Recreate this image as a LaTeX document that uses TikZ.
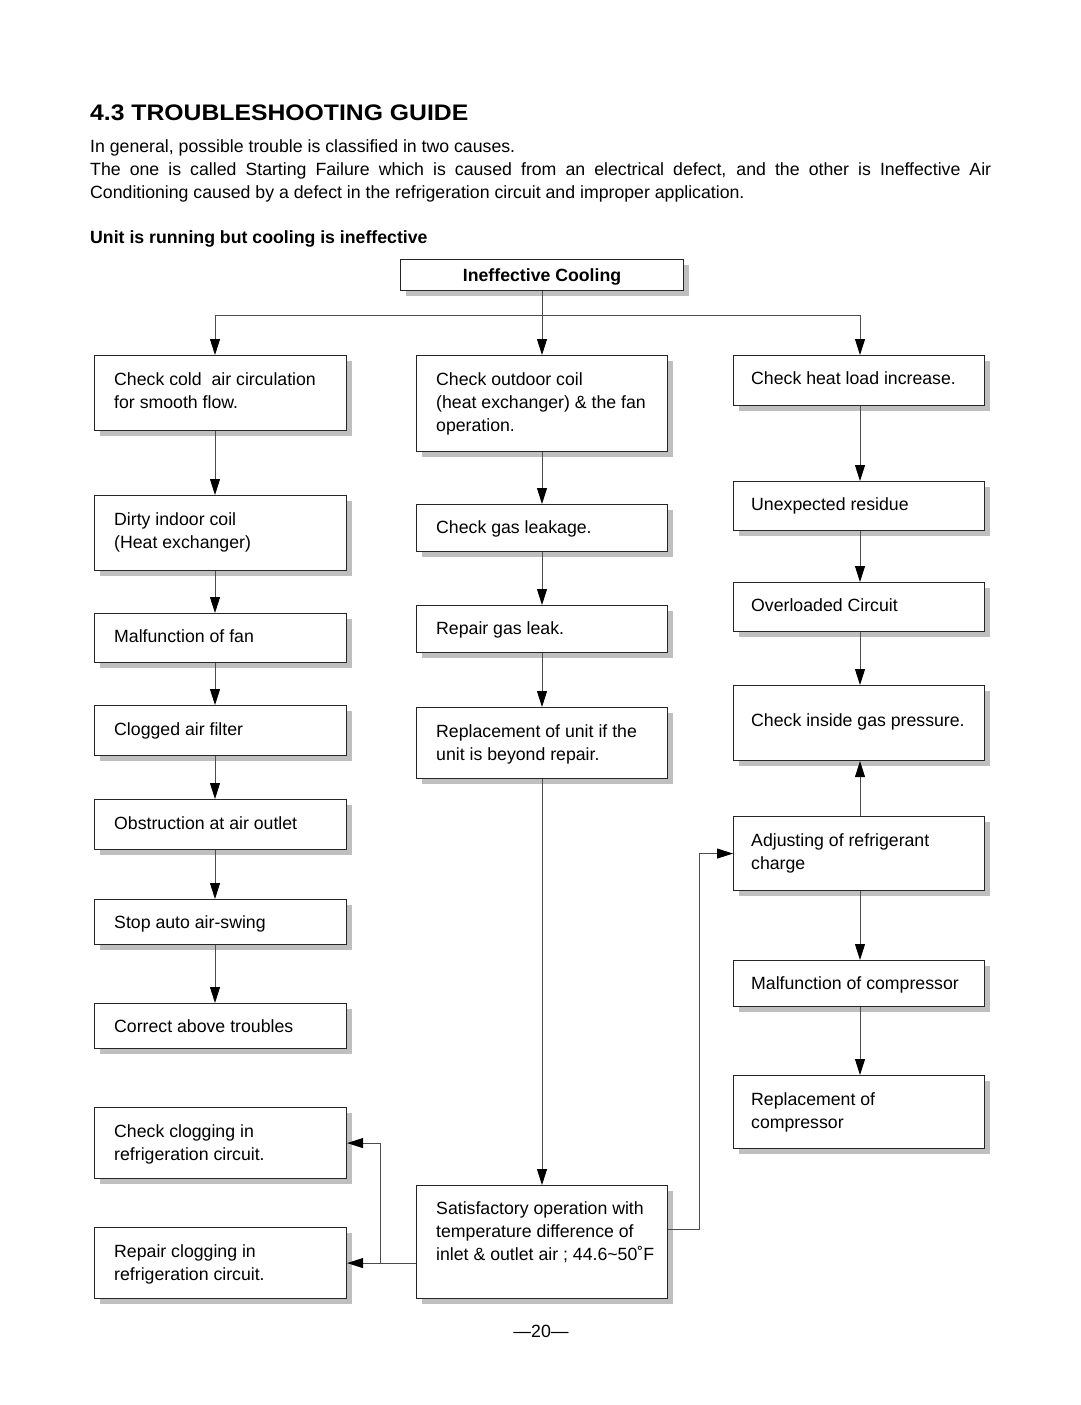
\documentclass[tikz,border=0pt]{standalone}
\usepackage{fontspec}
\setmainfont{Liberation Sans}
\usetikzlibrary{arrows.meta,shadows}
\newcommand\fs{\fontsize{17.7}{23}\selectfont}
\tikzset{
  box/.style={draw=black!85, line width=1.1pt, fill=white, anchor=north west, inner sep=0pt,
    general shadow={fill=black!25, shadow xshift=5pt, shadow yshift=-5pt}},
  txt/.style={anchor=north west, align=left, inner sep=0pt, font=\fs},
  plain/.style={inner sep=0pt, font=\fs},
  ln/.style={draw=black!70, line width=0.9pt},
  arr/.style={ln, -{Triangle[length=16pt,width=10pt,color=black]}}
}
% name, x, y, w, h, text-x-inset, text-y-offset, text
\newcommand\fbx[8]{%
  \node[box, minimum width=#4pt, minimum height=#5pt] (#1) at (#2,#3) {};
  \node[txt] (#1t) at ([shift={(#6,#7)}]#1.north west) {#8};}
\begin{document}
\begin{tikzpicture}[x=1pt,y=-1pt]
\useasboundingbox[fill=white] (0,0) rectangle (1080,1405);

% header texts
\node[anchor=base west, inner sep=0pt] (title) at (90,120)
  {\scalebox{1.1}[1]{\fontsize{22.5}{26}\selectfont\bfseries 4.3 TROUBLESHOOTING GUIDE}};
\node[plain, anchor=base west] (p1) at (90,152.5) {In general, possible trouble is classified in two causes.};
\node[plain, anchor=base west] (p2) at (90,175.5) {\makebox[901pt][s]{The one is called Starting Failure which is caused from an electrical defect, and the other is Ineffective Air}};
\node[plain, anchor=base west] (p3) at (90,198.5) {Conditioning caused by a defect in the refrigeration circuit and improper application.};
\node[plain, anchor=base west, font=\fs\bfseries] (sub) at (90,243.5) {Unit is running but cooling is ineffective};

% top box
\node[box, minimum width=283pt, minimum height=31pt] (IC) at (400,259) {};
\node[plain, font=\fs\bfseries, anchor=base] (ICt) at ([yshift=-6pt]IC.center) {Ineffective Cooling};

% left column
\fbx{L1}{94}{355}{252}{75}{20}{17}{Check cold\ \ air circulation\\for smooth flow.}
\fbx{L2}{94}{495}{252}{75}{20}{17}{Dirty indoor coil\\(Heat exchanger)}
\fbx{L3}{94}{613}{252}{49}{20}{16.5}{Malfunction of fan}
\fbx{L4}{94}{705}{252}{50}{20}{17}{Clogged air filter}
\fbx{L5}{94}{799}{252}{50}{20}{17}{Obstruction at air outlet}
\fbx{L6}{94}{899}{252}{45}{20}{16}{Stop auto air-swing}
\fbx{L7}{94}{1003}{252}{45}{20}{16}{Correct above troubles}
\fbx{L8}{94}{1107}{252}{71}{20}{17}{Check clogging in\\refrigeration circuit.}
\fbx{L9}{94}{1227}{252}{71}{20}{17}{Repair clogging in\\refrigeration circuit.}

% middle column
\fbx{M1}{416}{355}{251}{96}{20}{17}{Check outdoor coil\\(heat exchanger) \& the fan\\operation.}
\fbx{M2}{416}{504}{251}{47}{20}{16.5}{Check gas leakage.}
\fbx{M3}{416}{605}{251}{47}{20}{16.5}{Repair gas leak.}
\fbx{M4}{416}{707}{251}{71}{20}{17}{Replacement of unit if the\\unit is beyond repair.}
\fbx{M5}{416}{1185}{251}{113}{20}{16.5}{Satisfactory operation with\\temperature difference of\\inlet \& outlet air ; 44.6\textasciitilde 50˚F}

% right column
\fbx{R1}{733}{355}{251}{50}{18}{16.5}{Check heat load increase.}
\fbx{R2}{733}{481}{251}{49}{18}{16.5}{Unexpected residue}
\fbx{R3}{733}{582}{251}{49}{18}{16.5}{Overloaded Circuit}
\fbx{R4}{733}{685}{251}{75}{18}{28.5}{Check inside gas pressure.}
\fbx{R5}{733}{816}{251}{74}{18}{17}{Adjusting of refrigerant\\charge}
\fbx{R6}{733}{960}{251}{46}{18}{16.5}{Malfunction of compressor}
\fbx{R7}{733}{1075}{251}{73}{18}{17}{Replacement of\\compressor}

% column axes and junctions
\coordinate (colL) at (215,0);
\coordinate (colM) at (542,0);
\coordinate (colR) at (860,0);
\coordinate (hb) at (542,315);
\coordinate (jL) at (380,1262);
\coordinate (jR) at (699,1229);

% top distribution
\draw[ln] (hb -| colL) -- (hb -| colR);
\draw[arr] (IC.south -| colM) -- (M1.north -| colM);
\draw[arr] (hb -| colL) -- (L1.north -| colL);
\draw[arr] (hb -| colR) -- (R1.north -| colR);

% left chain
\foreach \a/\b in {L1/L2,L2/L3,L3/L4,L4/L5,L5/L6,L6/L7}
  \draw[arr] (\a.south -| colL) -- (\b.north -| colL);
% middle chain
\foreach \a/\b in {M1/M2,M2/M3,M3/M4,M4/M5}
  \draw[arr] (\a.south -| colM) -- (\b.north -| colM);
% right chain
\foreach \a/\b in {R1/R2,R2/R3,R3/R4,R5/R6,R6/R7}
  \draw[arr] (\a.south -| colR) -- (\b.north -| colR);
\draw[arr] (R5.north -| colR) -- (R4.south -| colR);

% bottom connections
\draw[arr] (M5.west |- L9.east) -- (L9.east);
\draw[arr] (jL |- L9.east) -- (jL |- L8.east) -- (L8.east);
\draw[arr] (M5.east |- jR) -- (jR) -- (jR |- R5.west) -- (R5.west);

% page number
\node[plain, anchor=base] (pg) at (541,1337) {---20---};
\end{tikzpicture}
\end{document}
